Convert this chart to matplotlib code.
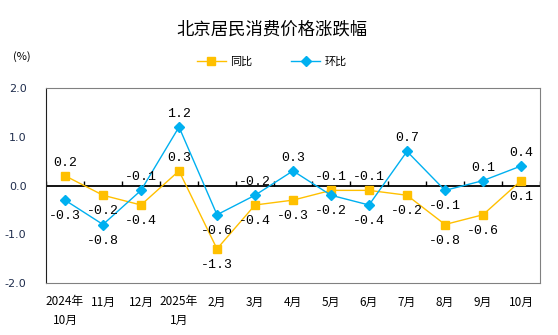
import matplotlib
matplotlib.use("Agg")
import matplotlib.pyplot as plt
import numpy as np

plt.rcParams["font.family"] = ["Noto Sans CJK SC", "DejaVu Sans"]

months = ["2024年\n10月", "11月", "12月", "2025年\n1月", "2月", "3月", "4月",
          "5月", "6月", "7月", "8月", "9月", "10月"]
yoy = [0.2, -0.2, -0.4, 0.3, -1.3, -0.4, -0.3, -0.1, -0.1, -0.2, -0.8, -0.6, 0.1]
mom = [-0.3, -0.8, -0.1, 1.2, -0.6, -0.2, 0.3, -0.2, -0.4, 0.7, -0.1, 0.1, 0.4]
# label above (1) or below (-1) the point
yoy_pos = [1, -1, -1, 1, -1, -1, -1, 1, 1, -1, -1, -1, -1]
mom_pos = [-1, -1, 1, 1, -1, 1, 1, -1, -1, 1, -1, 1, 1]

yellow = "#FFC000"
blue = "#00B0F0"

fig = plt.figure(figsize=(5.58, 3.35), dpi=100)
ax = fig.add_axes([46 / 558, 52 / 335, 494 / 558, 195 / 335])

x = np.arange(len(months))
ax.plot(x, yoy, color=yellow, lw=1, marker="s", ms=6, mec=yellow, label="同比")
ax.plot(x, mom, color=blue, lw=1, marker="D", ms=5.5, mec=blue, label="环比")

ax.axhline(0, color="black", lw=1.3, zorder=1)
bounds = np.arange(len(months) + 1) - 0.5
ax.vlines(bounds, 0, 0.1, color="black", lw=1, zorder=1)

def put_labels(vals, pos):
    for i, (v, p) in enumerate(zip(vals, pos)):
        dy = 13 if p > 0 else -16
        ax.annotate(f"{v:.1f}", (x[i], v), xytext=(0, dy), textcoords="offset pixels",
                    ha="center", va="center", fontsize=9.5, family="Liberation Mono")

put_labels(yoy, yoy_pos)
put_labels(mom, mom_pos)

ax.set_xlim(-0.5, len(months) - 0.5)
ax.set_ylim(-2.0, 2.0)
ax.set_yticks([-2.0, -1.0, 0.0, 1.0, 2.0])
ax.set_yticklabels(["-2.0", "-1.0", "0.0", "1.0", "2.0"], color="#1F2D4D", fontsize=8,
                   family="DejaVu Sans")
ax.tick_params(axis="y", length=0, pad=14)
ax.set_xticks(x)
ax.set_xticklabels(months, fontsize=8.5, linespacing=1.5)
ax.tick_params(axis="x", length=0, pad=9)

for side in ["top", "right", "bottom"]:
    ax.spines[side].set_color("#808080")
ax.spines["left"].set_color("#202020")

fig.text(272 / 558, 1 - 30 / 335, "北京居民消费价格涨跌幅", ha="center", va="center", fontsize=12.5)
fig.text(22 / 558, 1 - 57 / 335, "(%)", ha="center", va="center", fontsize=8)
fig.legend(loc="center", bbox_to_anchor=(272 / 558, 1 - 62 / 335), ncol=2, frameon=False,
           fontsize=8, handlelength=2.6, columnspacing=3.5, handletextpad=0.4)

fig.savefig("out.png", dpi=100)
